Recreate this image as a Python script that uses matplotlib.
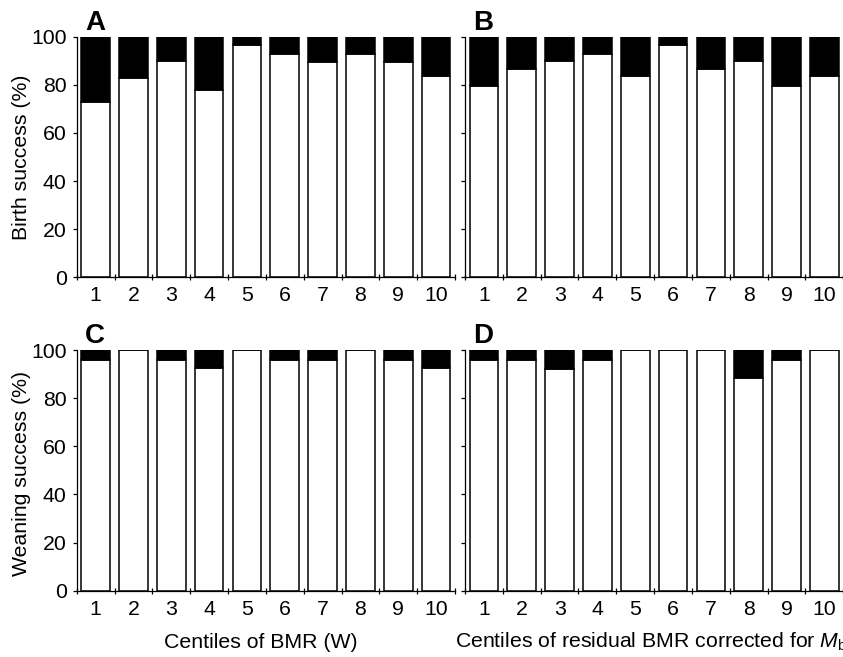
import matplotlib
matplotlib.use("Agg")
import matplotlib.pyplot as plt
import numpy as np

plt.rcParams['font.family'] = ['Liberation Sans', 'DejaVu Sans']
plt.rcParams['mathtext.fontset'] = 'custom'
plt.rcParams['mathtext.rm'] = 'Liberation Sans'
plt.rcParams['mathtext.it'] = 'Liberation Sans:italic'

centiles = ['1', '2', '3', '4', '5', '6', '7', '8', '9', '10']
birth_bmr = [73, 83, 90, 78, 96.5, 93, 89.5, 93, 89.5, 83.5]
birth_resid = [79.5, 86.5, 90, 93, 83.5, 96.5, 86.5, 90, 79.5, 83.5]
wean_bmr = [96, 100, 96, 92.5, 100, 96, 96, 100, 96, 92.5]
wean_resid = [96, 96, 92, 96, 100, 100, 100, 88.5, 96, 100]
panel_letters = ['A', 'B', 'C', 'D']
ylabels = ['Birth success (%)', 'Weaning success (%)']
xlabels = ['Centiles of BMR (W)',
           r'Centiles of residual BMR corrected for $\mathit{M}_\mathrm{b}$']

W, H = 843, 657
fig = plt.figure(figsize=(W / 100, H / 100), dpi=100)

FS = 15.3
ax_w = 378.3 / W
ax_h = 240.6 / H
lefts = [76.7 / W, 465 / W]
bottoms = [1 - 277.3 / H, 1 - 590.7 / H]

data = [[birth_bmr, birth_resid], [wean_bmr, wean_resid]]
x = np.arange(1, len(centiles) + 1)

k = 0
for r in range(2):
    for c in range(2):
        ax = fig.add_axes([lefts[c], bottoms[r], ax_w, ax_h])
        vals = np.array(data[r][c])
        ax.bar(x, vals, width=0.76, bottom=0, color='white',
               edgecolor='black', linewidth=1.1, zorder=2)
        ax.bar(x, 100 - vals, width=0.76, bottom=vals, color='black',
               edgecolor='black', linewidth=1.1, zorder=2)
        ax.set_xlim(0.5, 10.5)
        ax.set_ylim(0, 100)
        for s in ['top', 'right']:
            ax.spines[s].set_visible(False)
        for s in ['left', 'bottom']:
            ax.spines[s].set_linewidth(0.9)
        ax.set_yticks([0, 20, 40, 60, 80, 100])
        ax.tick_params(axis='y', direction='out', length=3.2, width=0.9,
                       labelsize=FS, pad=4)
        if c == 1:
            ax.tick_params(axis='y', labelleft=False)
        ax.set_xticks(x)
        ax.set_xticklabels(centiles)
        ax.tick_params(axis='x', which='major', length=0, pad=6.5,
                       labelsize=FS)
        ax.set_xticks(np.arange(0.5, 11, 1.0), minor=True)
        ax.tick_params(axis='x', which='minor', direction='inout',
                       length=4.5, width=0.9)
        ax.text(0.022, 1.028, panel_letters[k], transform=ax.transAxes,
                fontsize=20, fontweight='bold', ha='left', va='baseline')
        k += 1

fig.text(22 / W, 1 - 157 / H, ylabels[0], rotation=90, ha='center',
         va='center', fontsize=FS)
fig.text(22 / W, 1 - 473 / H, ylabels[1], rotation=90, ha='center',
         va='center', fontsize=FS)
fig.text(260.5 / W, 1 - 648 / H, xlabels[0], ha='center', va='baseline',
         fontsize=FS)
fig.text(455 / W, 1 - 648 / H, xlabels[1], ha='left', va='baseline',
         fontsize=FS)

fig.savefig('out.png', dpi=100)
